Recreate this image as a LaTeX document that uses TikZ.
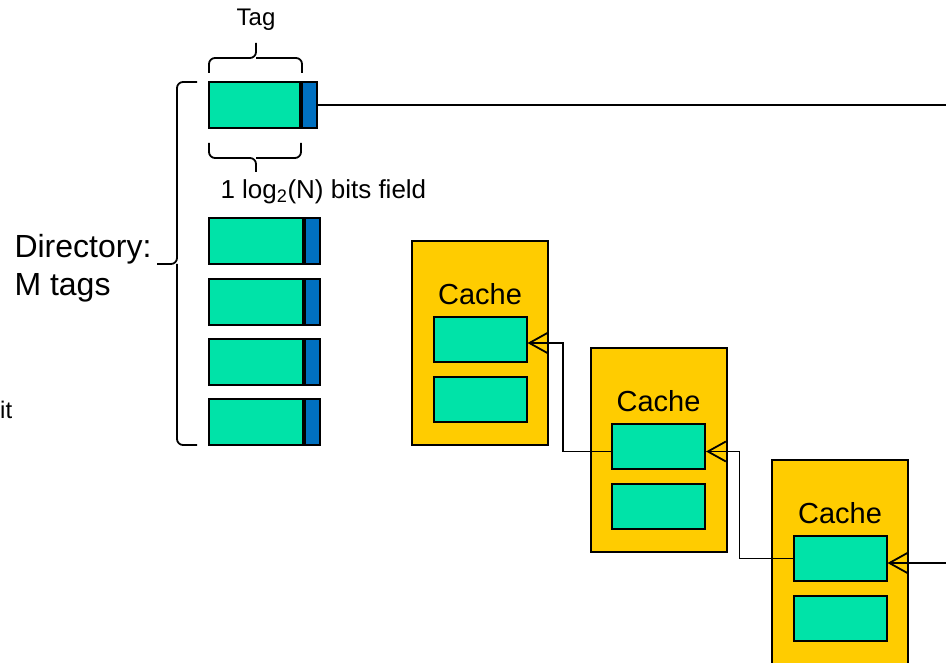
\documentclass[tikz,border=0pt]{standalone}
\usepackage{fontspec}
\setmainfont{Liberation Sans}
\usepackage{tikz}
\usetikzlibrary{positioning,arrows.meta}
\definecolor{tagcolor}{HTML}{00E3A8}
\definecolor{ptrcolor}{HTML}{0070C0}
\definecolor{cachecolor}{HTML}{FFCC00}

\tikzset{
  tagfield/.style={draw, line width=2pt, fill=tagcolor, minimum width=94, minimum height=46, inner sep=0},
  ptrfield/.style={draw, line width=2pt, fill=ptrcolor, minimum width=15, minimum height=46, inner sep=0},
  cachebox/.style={draw, line width=2pt, fill=cachecolor, minimum width=136, minimum height=204, inner sep=0},
  slot/.style={draw, line width=2pt, fill=tagcolor, minimum width=93, minimum height=45, inner sep=0},
  link/.style={line width=1.8pt},
  barb/.style={-{Straight Barb[length=18pt,width=20pt]}},
  bigtext/.style={font=\fontsize{29}{35}\selectfont},
  smalltext/.style={font=\fontsize{24}{29}\selectfont},
  bracket/.style={line width=1.8pt, rounded corners=6pt}
}

\begin{document}
\begin{tikzpicture}[x=1pt,y=-1pt]
  \useasboundingbox (0,0) rectangle (946,663);

  % directory entries
  \node[tagfield, minimum width=91] (tag0) at (254.5,105) {};
  \node[ptrfield, anchor=west] (ptr0) at (tag0.east) {};
  \foreach \i/\y in {1/241,2/302,3/362,4/422} {
    \node[tagfield] (tag\i) at (256,\y) {};
    \node[ptrfield, anchor=west] (ptr\i) at (tag\i.east) {};
  }

  % braces
  \draw[bracket] (209,73) |- (256,58) -- (256,43);
  \draw[bracket] (256,58) -| (302,73);
  \node[smalltext] (taglabel) at (256,20) {Tag};
  \draw[bracket] (209,143) |- (256,158) -- (256,172);
  \draw[bracket] (256,158) -| (301,143);
  \node[anchor=west, font=\fontsize{26}{31}\selectfont] (bitslabel) at (217,192) {1 log\textsubscript{2}(N) bits field};
  \draw[bracket] (197,82) -| (177,264) -- (157,264);
  \draw[bracket] (177,264) |- (197,445);
  \node[anchor=west, align=left, font=\fontsize{32}{38}\selectfont] (dirlabel) at (11,268) {Directory:\\M tags};
  \node[smalltext, anchor=west, inner sep=0] (cutlabel) at (0,410) {it};

  % caches
  \foreach \c/\x/\y in {1/480/343,2/658.5/450,3/840/562} {
    \node[cachebox] (cache\c) at (\x,\y) {};
    \node[bigtext] (cachelabel\c) at (\x,\y-49) {Cache};
    \node[slot] (slot\c a) at (\x,\y-3.5) {};
    \node[slot] (slot\c b) at (\x,\y+56.5) {};
  }

  % sharing list
  \coordinate (rightin) at (946,563);
  \coordinate (rightout) at (946,105);
  \draw[link] (ptr0.east) -- (rightout);
  \draw[link, barb] (rightin) -- ([yshift=-4.5pt]slot3a.east);
  \draw[link, barb] (slot3a.west) -- ++(-53,0) |- ([yshift=-5pt]slot2a.east);
  \draw[link, barb] ([yshift=-5pt]slot2a.west) -- ++(-48,0) |- ([yshift=-3.5pt]slot1a.east);
\end{tikzpicture}
\end{document}
